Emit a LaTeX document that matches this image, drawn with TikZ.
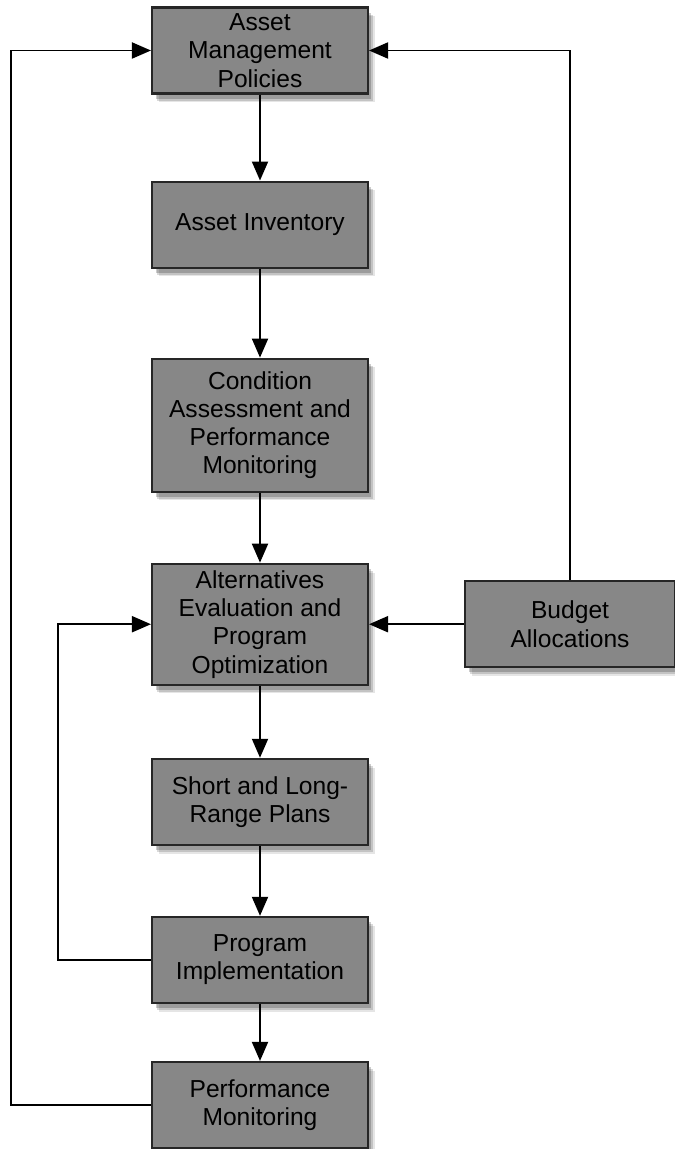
\documentclass[tikz,border=0pt]{standalone}
\usepackage{fontspec}
\setmainfont{Liberation Sans}
\usetikzlibrary{arrows.meta,positioning,shadows}
\tikzset{
	every node/.style={
		font=\fontsize{14}{16.1}\selectfont
	},
	stage/.style={
		shape=rectangle,
		minimum width=4.32cm,
		minimum height=1.72cm,
		align=center,
		draw=black!85,
		line width=1.2pt,
		fill=black!47,
		drop shadow={shadow xshift=4pt, shadow yshift=-5pt, fill=black, opacity=0.1},
		drop shadow={shadow xshift=3pt, shadow yshift=-4pt, fill=black, opacity=0.15},
		drop shadow={shadow xshift=2pt, shadow yshift=-3pt, fill=black, opacity=0.2}
	},
	myarrow/.style={-{Triangle[length=0.38cm,width=0.32cm]}, line width=1.1pt},
}

\begin{document}
\begin{tikzpicture}[x=0.02cm,y=-0.02cm]
	\useasboundingbox (0,0) rectangle (675,1149);

	% Etapas principales
	\node[stage]                          (amp) at (260,50.5)       {Asset\\Management\\Policies};
	\node[stage] [below=1.72cm of amp]    (ai)                      {Asset Inventory};
	\node[stage, minimum height=2.66cm]   (ca) [below=1.78cm of ai]  {Condition\\Assessment and\\Performance\\Monitoring};
	\node[stage, minimum height=2.42cm]   (ae) [below=1.4cm of ca]   {Alternatives\\Evaluation and\\Program\\Optimization};
	\node[stage] [below=1.44cm of ae]     (sl)                      {Short and Long-\\Range Plans};
	\node[stage] [below=1.4cm of sl]      (pi)                      {Program\\Implementation};
	\node[stage]                          (pm) [below=1.14cm of pi]  {Performance\\Monitoring};

	% Presupuesto
	\node[stage, minimum width=4.2cm] (ba) [right=1.9cm of ae] {Budget\\Allocations};

	\draw[myarrow] (amp) -- (ai);
	\draw[myarrow] (ai) -- (ca);
	\draw[myarrow] (ca) -- (ae);
	\draw[myarrow] (ae) -- (sl);
	\draw[myarrow] (sl) -- (pi);
	\draw[myarrow] (pi) -- (pm);

	% Lazos de retorno
	\coordinate (outer) at (11,0);
	\coordinate (inner) at (58,0);
	\draw[myarrow] (pm.west) -- (pm.west -| outer) -- (amp.west -| outer) -- (amp.west);
	\draw[myarrow] (pi.west) -- (pi.west -| inner) -- (ae.west -| inner) -- (ae.west);
	\draw[myarrow] (ba.west) -- (ba.west -| ae.east);
	\draw[myarrow] (ba.north) |- (amp.east);
\end{tikzpicture}
\end{document}
